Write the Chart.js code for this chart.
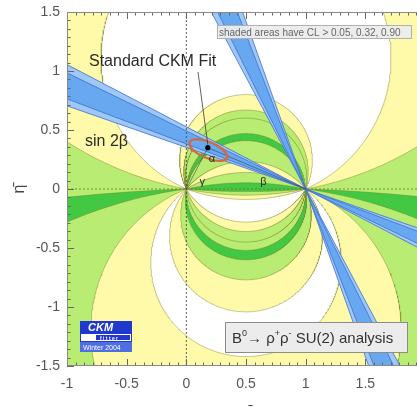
<!DOCTYPE html>
<html><head><meta charset="utf-8">
<script src="https://cdn.jsdelivr.net/npm/chart.js@4"></script>
<style>
html,body{margin:0;padding:0;overflow:hidden;background:#fff;}
#wrap{position:relative;width:430px;height:407px;}
</style>
</head><body>
<div id="wrap"><canvas id="c" width="430" height="407"></canvas></div>
<script>
// ---------------- data ----------------
const xRange = [-1, 2];
const yRange = [-1.5, 1.5];
const xTickLabels = ['-1', '-0.5', '0', '0.5', '1', '1.5', '2'];
const yTickLabels = ['1.5', '1', '0.5', '0', '-0.5', '-1', '-1.5'];

// alpha constraint from B0 -> rho+ rho- (SU(2) analysis): boundaries in degrees
// CL level of each band: 0 = none, 1 = CL>0.05, 2 = CL>0.32, 3 = CL>0.90
// (first level is for alpha below the first edge)
const alphaEdgesUpper = [10.5, 24.3, 64, 73.5, 79.5, 93.6, 101.3, 130, 148.7, 168];
const clLevelsUpper   = [2, 1, 0, 1, 2, 2, 3, 2, 1, 2, 3];
const alphaEdgesLower = [2, 7.7, 22.6, 38.8, 51.3, 66, 79.6, 87.7, 96, 108.5, 121.4, 160, 168, 175];
const clLevelsLower   = [2, 3, 2, 1, 0, 1, 2, 3, 2, 2, 1, 0, 1, 2, 3];

// sin 2beta constraint: beta ranges in degrees
const betaOuter = [19.4, 27.8];
const betaInner = [20.9, 26.2];

// Standard CKM fit
const fitPoint   = [0.18, 0.35];
const fitEllipse = [0.185, 0.33, 0.17, 0.068, -23]; // centre rho, eta, semi-axes, tilt (deg)

// ---------------- styles ----------------
const FONT = '"Liberation Sans", Arial, Helvetica, sans-serif';
const LEVEL_COLORS = ['#ffffff', 'rgb(255,250,170)', 'rgb(184,236,114)', 'rgb(66,200,66)'];
const EDGE_COLOR = 'rgba(120,128,40,0.55)';
const BLUE_OUTER = 'rgb(160,200,246)';
const BLUE_INNER = 'rgb(104,168,240)';
const BLUE_EDGE  = 'rgb(60,110,210)';

// ---------------- geometry helpers ----------------
const D2R = Math.PI / 180;
// region of the half plane (side = +1 upper / -1 lower) where the angle alpha exceeds alphaDeg:
// circular segment over the chord [0,1] on the rho axis
function alphaSegment(alphaDeg, side) {
  const a = alphaDeg * D2R;
  const yc = 0.5 / Math.tan(a);
  const r = 0.5 / Math.sin(a);
  const ts = Math.atan2(-yc, 0.5);
  const te = Math.PI - ts;
  const n = 360;
  const pts = [];
  for (let i = 0; i <= n; i++) {
    const t = ts + (te - ts) * i / n;
    pts.push({x: 0.5 + r * Math.cos(t), y: side * (yc + r * Math.sin(t))});
  }
  return pts;
}
function halfPlane(side) {
  const m = 0.3;
  return [
    {x: xRange[0] - m, y: 0}, {x: xRange[1] + m, y: 0},
    {x: xRange[1] + m, y: side * (yRange[1] + m)}, {x: xRange[0] - m, y: side * (yRange[1] + m)},
    {x: xRange[0] - m, y: 0}
  ];
}
// double wedge through (1,0) for a beta range; steep = the (90deg - beta) solution
function betaWedge(range, steep) {
  const L = 8;
  const dirs = steep ? [90 + range[0], 90 + range[1]] : [180 - range[1], 180 - range[0]];
  const apex = {x: 1, y: 0};
  const pts = [apex];
  [0, 180].forEach(off => {
    dirs.forEach(d => {
      const t = (d + off) * D2R;
      pts.push({x: 1 + L * Math.cos(t), y: L * Math.sin(t)});
    });
    pts.push(apex);
  });
  return pts;
}
function ellipsePoints(e) {
  const [cx, cy, a, b, tilt] = e;
  const p = tilt * D2R;
  const pts = [];
  for (let i = 0; i <= 120; i++) {
    const t = 2 * Math.PI * i / 120;
    pts.push({
      x: cx + a * Math.cos(t) * Math.cos(p) - b * Math.sin(t) * Math.sin(p),
      y: cy + a * Math.cos(t) * Math.sin(p) + b * Math.sin(t) * Math.cos(p)
    });
  }
  return pts;
}

// ---------------- layers (bottom first) ----------------
const layers = [];
const base = {pointRadius: 0, pointHoverRadius: 0, pointHitRadius: 0, tension: 0};
[[alphaEdgesUpper, clLevelsUpper, 1], [alphaEdgesLower, clLevelsLower, -1]].forEach(([edges, levels, side]) => {
  layers.push({...base, data: halfPlane(side), fill: 'shape', backgroundColor: LEVEL_COLORS[levels[0]], borderWidth: 0});
  edges.forEach((a, i) => {
    layers.push({...base, data: alphaSegment(a, side), fill: 'shape',
      backgroundColor: LEVEL_COLORS[levels[i + 1]], borderColor: EDGE_COLOR, borderWidth: 0.8});
  });
});
// axes through the origin
layers.push({...base, data: [{x: xRange[0], y: 0}, {x: xRange[1], y: 0}], fill: false,
  borderColor: 'rgba(110,118,40,0.8)', borderWidth: 1, borderDash: [2, 2]});
// sin 2beta bands
[false, true].forEach(steep => {
  layers.push({...base, data: betaWedge(betaOuter, steep), fill: 'shape', backgroundColor: BLUE_OUTER, borderColor: BLUE_EDGE, borderWidth: 0.8});
  layers.push({...base, data: betaWedge(betaInner, steep), fill: 'shape', backgroundColor: BLUE_INNER, borderColor: BLUE_EDGE, borderWidth: 0.8});
});
layers.push({...base, data: [{x: 0, y: yRange[0]}, {x: 0, y: yRange[1]}], fill: false,
  borderColor: 'rgba(70,70,70,0.85)', borderWidth: 1, borderDash: [2, 2]});
// unitarity triangle of the standard fit
layers.push({...base, data: [{x: 0, y: 0}, {x: fitPoint[0], y: fitPoint[1]}, {x: 1, y: 0}], fill: false,
  borderColor: 'rgba(60,60,60,0.7)', borderWidth: 0.8});
// standard CKM fit contour and point
layers.push({...base, data: ellipsePoints(fitEllipse), fill: false, borderColor: 'rgb(212,104,64)', borderWidth: 2.2});
layers.push({...base, data: [{x: fitPoint[0], y: fitPoint[1]}], showLine: false, pointRadius: 2.6,
  pointBackgroundColor: '#000', pointBorderWidth: 0});
layers.forEach((d, i) => { d.order = layers.length - i; });

// ---------------- decorations drawn with the chart scales ----------------
const decorations = {
  id: 'decorations',
  afterDatasetsDraw(chart) {
    const {ctx, chartArea: a, scales: {x, y}} = chart;
    ctx.save();
    // inward ticks on all four sides
    ctx.strokeStyle = '#666'; ctx.lineWidth = 1;
    const seg = (x1, y1, x2, y2) => { ctx.beginPath(); ctx.moveTo(x1, y1); ctx.lineTo(x2, y2); ctx.stroke(); };
    const sub = 7;
    const nx = Math.round((xRange[1] - xRange[0]) / 0.5 * sub);
    for (let i = 0; i <= nx; i++) {
      const v = xRange[0] + i * 0.5 / sub;
      const px = Math.round(x.getPixelForValue(v)) + 0.5;
      const L = i % sub === 0 ? 7 : 3.5;
      seg(px, a.bottom, px, a.bottom - L); seg(px, a.top, px, a.top + L);
    }
    const ny = Math.round((yRange[1] - yRange[0]) / 0.5 * sub);
    for (let i = 0; i <= ny; i++) {
      const v = yRange[0] + i * 0.5 / sub;
      const py = Math.round(y.getPixelForValue(v)) + 0.5;
      const L = i % sub === 0 ? 7 : 3.5;
      seg(a.left, py, a.left + L, py); seg(a.right, py, a.right - L, py);
    }
    ctx.strokeStyle = '#8a8a8a';
    ctx.strokeRect(a.left + 0.5, a.top + 0.5, a.width - 1, a.height - 1);

    // labels on the plot
    const fx = x.getPixelForValue(fitPoint[0]), fy = y.getPixelForValue(fitPoint[1]);
    ctx.strokeStyle = 'rgba(50,50,50,0.85)'; ctx.lineWidth = 0.9;
    seg(a.left + 131, a.top + 60, fx, fy - 3);
    ctx.fillStyle = '#2a2a2a';
    ctx.font = '16px ' + FONT; ctx.textBaseline = 'alphabetic'; ctx.textAlign = 'left';
    ctx.fillText('Standard CKM Fit', a.left + 22, a.top + 54);
    ctx.fillText('sin 2\u03B2', a.left + 18, a.top + 134);
    ctx.font = '11px ' + FONT;
    ctx.fillText('\u03B1', fx + 1, fy + 14);
    ctx.fillText('\u03B3', x.getPixelForValue(0.11), y.getPixelForValue(0.03));
    ctx.fillText('\u03B2', x.getPixelForValue(0.62), y.getPixelForValue(0.03));

    // CL legend box (top right)
    ctx.fillStyle = 'rgba(236,236,236,0.95)'; ctx.strokeStyle = '#b0b0b0'; ctx.lineWidth = 1;
    ctx.fillRect(a.left + 150, a.top + 13, 194, 13); ctx.strokeRect(a.left + 150.5, a.top + 13.5, 194, 13);
    ctx.fillStyle = '#666'; ctx.font = '10px ' + FONT;
    ctx.fillText('shaded areas have CL > 0.05, 0.32, 0.90', a.left + 152, a.top + 23.5);

    // analysis box (bottom right)
    const bx = a.left + 158, by = a.top + 310;
    ctx.fillStyle = 'rgb(236,236,236)'; ctx.strokeStyle = '#8c8c8c';
    ctx.fillRect(bx, by, 182, 30); ctx.strokeRect(bx + 0.5, by + 0.5, 182, 30);
    ctx.fillStyle = '#333';
    let tx = bx + 7; const tb = by + 20.5;
    const put = (s, size, dy) => { ctx.font = size + 'px ' + FONT; ctx.fillText(s, tx, tb + dy); tx += ctx.measureText(s).width; };
    put('B', 15, 0); put('0', 9, -7); put('\u2192 \u03C1', 15, 0); put('+', 9, -7); put('\u03C1', 15, 0); put('-', 9, -7);
    put(' SU(2) analysis', 15, 0);

    // CKMfitter logo
    const lx = a.left + 13, ly = a.top + 309;
    ctx.fillStyle = 'rgb(32,56,205)'; ctx.fillRect(lx, ly, 52, 12);
    ctx.fillStyle = '#fff'; ctx.font = 'italic bold 11px ' + FONT; ctx.fillText('CKM', lx + 8, ly + 10);
    ctx.fillStyle = '#fff'; ctx.fillRect(lx, ly + 12, 52, 9);
    ctx.strokeStyle = 'rgb(32,56,205)'; ctx.strokeRect(lx + 0.5, ly + 12.5, 51, 8);
    ctx.fillStyle = 'rgb(32,56,205)'; ctx.fillRect(lx + 16, ly + 14, 34, 5);
    ctx.fillStyle = '#fff'; ctx.font = 'bold 5px ' + FONT; ctx.fillText('f i t t e r', lx + 20, ly + 18.5);
    ctx.fillStyle = 'rgb(80,110,228)'; ctx.fillRect(lx, ly + 21, 52, 10);
    ctx.fillStyle = '#fff'; ctx.font = '7px ' + FONT; ctx.fillText('Winter 2004', lx + 3, ly + 29);
    ctx.restore();
  }
};

// ---------------- chart ----------------
const labelFor = (list) => (v) => { const s = list.find(t => parseFloat(t) === v); return s === undefined ? '' : s; };
new Chart(document.getElementById('c'), {
  type: 'line',
  data: {datasets: layers},
  options: {
    responsive: false, animation: false, devicePixelRatio: 1,
    events: [],
    layout: {padding: {top: 12, right: 5, left: 0, bottom: 0}},
    plugins: {legend: {display: false}, tooltip: {enabled: false}},
    scales: {
      x: {
        type: 'linear', min: xRange[0], max: xRange[1],
        afterBuildTicks: (s) => { s.ticks = xTickLabels.map(t => ({value: parseFloat(t)})); },
        afterFit: (s) => { s.height = 41; s.paddingLeft = 0; s.paddingRight = 0; },
        ticks: {callback: labelFor(xTickLabels), color: '#555', font: {family: FONT, size: 14}, padding: 10, autoSkip: false, maxRotation: 0},
        grid: {display: false, drawTicks: false}, border: {display: false},
        title: {display: true, text: '\u03C1\u0304', color: '#444', font: {family: FONT, size: 16}, padding: {top: 0, bottom: -14}}
      },
      y: {
        type: 'linear', min: yRange[0], max: yRange[1],
        afterBuildTicks: (s) => { s.ticks = yTickLabels.map(t => ({value: parseFloat(t)})); },
        afterFit: (s) => { s.width = 67; s.paddingTop = 0; s.paddingBottom = 0; },
        ticks: {callback: labelFor(yTickLabels), color: '#555', font: {family: FONT, size: 14}, padding: 7, autoSkip: false},
        grid: {display: false, drawTicks: false}, border: {display: false},
        title: {display: true, text: '\u03B7\u0304', color: '#444', font: {family: FONT, size: 16}, padding: {top: 10, bottom: 0}}
      }
    }
  },
  plugins: [decorations]
});
</script>
</body></html>
